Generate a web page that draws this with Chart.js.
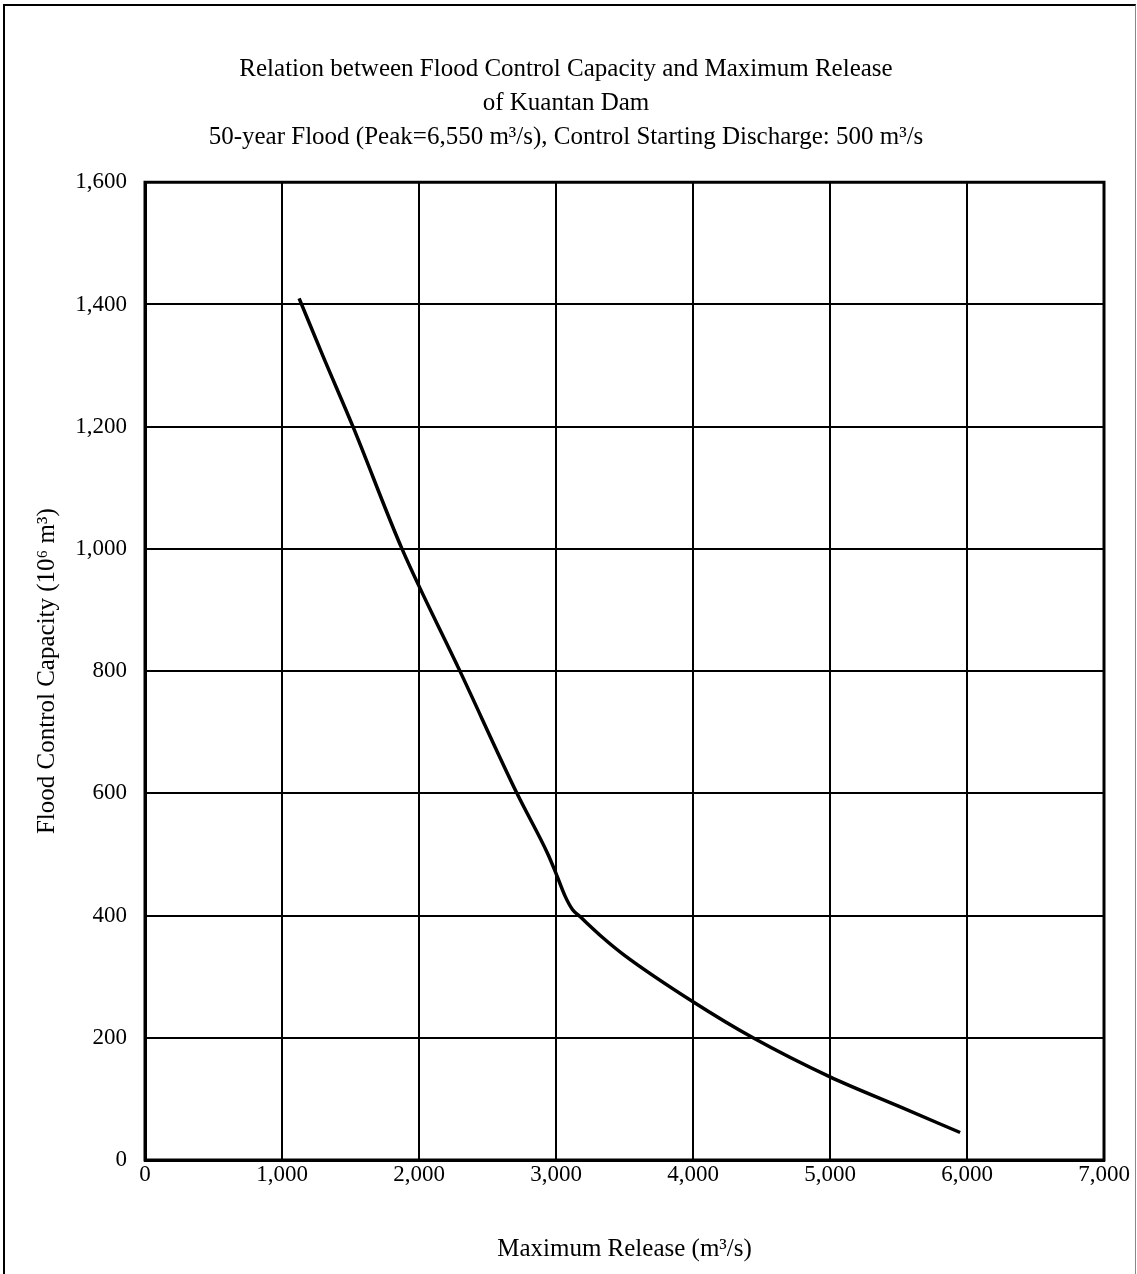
<!DOCTYPE html>
<html lang="en">
<head>
    <meta charset="UTF-8">
    <title>Flood Control Capacity vs Maximum Release - Kuantan Dam</title>
    <script src="https://cdn.jsdelivr.net/npm/chart.js"></script>
    <style>
        html, body { margin: 0; padding: 0; background: #fff; }
        .frame { position: absolute; left: 3px; top: 4px; right: 1px; bottom: -4px;
                 border-left: 2px solid #000; border-top: 2px solid #000; border-right: 1px solid #888; }
        .wrap { position: relative; width: 1137px; height: 1274px; }
    </style>
</head>
<body>
<div class="wrap">
    <div class="frame"></div>
    <canvas id="floodChart"></canvas>
</div>
<script>
    // values
    const releaseX = [1125, 1300, 1518, 1876, 2299, 2715, 2942, 3000, 3068, 3120, 3177, 3336, 3500, 4000, 4438, 5000, 5500, 5950];
    const capacityY = [1410, 1315, 1200, 1000, 800, 600, 500, 469, 431, 410, 398, 365, 335, 259, 200, 136, 88, 45];

    const titleLines = [
        'Relation between Flood Control Capacity and Maximum Release',
        'of Kuantan Dam',
        '50-year Flood (Peak=6,550 m³/s), Control Starting Discharge: 500 m³/s'
    ];
    const xTitle = 'Maximum Release (m³/s)';
    const yTitle = 'Flood Control Capacity (10⁶ m³)';

    const serif = "'Liberation Serif', 'DejaVu Serif', serif";
    const points = releaseX.map((x, i) => ({ x: x, y: capacityY[i] }));

    const ctx = document.getElementById('floodChart').getContext('2d');
    new Chart(ctx, {
        type: 'scatter',
        data: {
            datasets: [{
                data: points,
                showLine: true,
                borderColor: '#000',
                borderWidth: 3.5,
                pointRadius: 0,
                cubicInterpolationMode: 'monotone',
                fill: false
            }]
        },
        options: {
            responsive: true,
            maintainAspectRatio: false,
            animation: false,
            layout: { padding: { top: 10, left: 28, right: 33, bottom: 6 } },
            plugins: {
                legend: { display: false },
                tooltip: { enabled: false },
                title: {
                    display: true,
                    text: titleLines,
                    color: '#000',
                    font: { family: serif, size: 25, weight: 'normal', lineHeight: 1.35 },
                    padding: { top: 43, bottom: 28 }
                }
            },
            scales: {
                x: {
                    type: 'linear',
                    min: 0,
                    max: 7000,
                    ticks: {
                        stepSize: 1000,
                        color: '#000',
                        font: { family: serif, size: 23 },
                        padding: 1,
                        callback: v => v.toLocaleString('en-US')
                    },
                    grid: { color: '#000', lineWidth: 2, drawTicks: false },
                    border: { color: '#000', width: 3 },
                    title: {
                        display: true,
                        text: xTitle,
                        color: '#000',
                        font: { family: serif, size: 25 }
                    },
                    afterFit: scale => { scale.height = 108; }
                },
                y: {
                    min: 0,
                    max: 1600,
                    ticks: {
                        stepSize: 200,
                        color: '#000',
                        font: { family: serif, size: 23 },
                        padding: 18,
                        callback: v => v.toLocaleString('en-US')
                    },
                    grid: { color: '#000', lineWidth: 2, drawTicks: false },
                    border: { color: '#000', width: 3 },
                    title: {
                        display: true,
                        text: yTitle,
                        color: '#000',
                        font: { family: serif, size: 25 }
                    },
                    afterFit: scale => { scale.width = 117; }
                }
            }
        },
        plugins: [{
            id: 'plotFrame',
            afterDraw(chart) {
                const a = chart.chartArea;
                const c = chart.ctx;
                c.save();
                c.strokeStyle = '#000';
                c.lineWidth = 3;
                c.strokeRect(a.left, a.top, a.right - a.left, a.bottom - a.top);
                c.restore();
            }
        }]
    });
</script>
</body>
</html>
